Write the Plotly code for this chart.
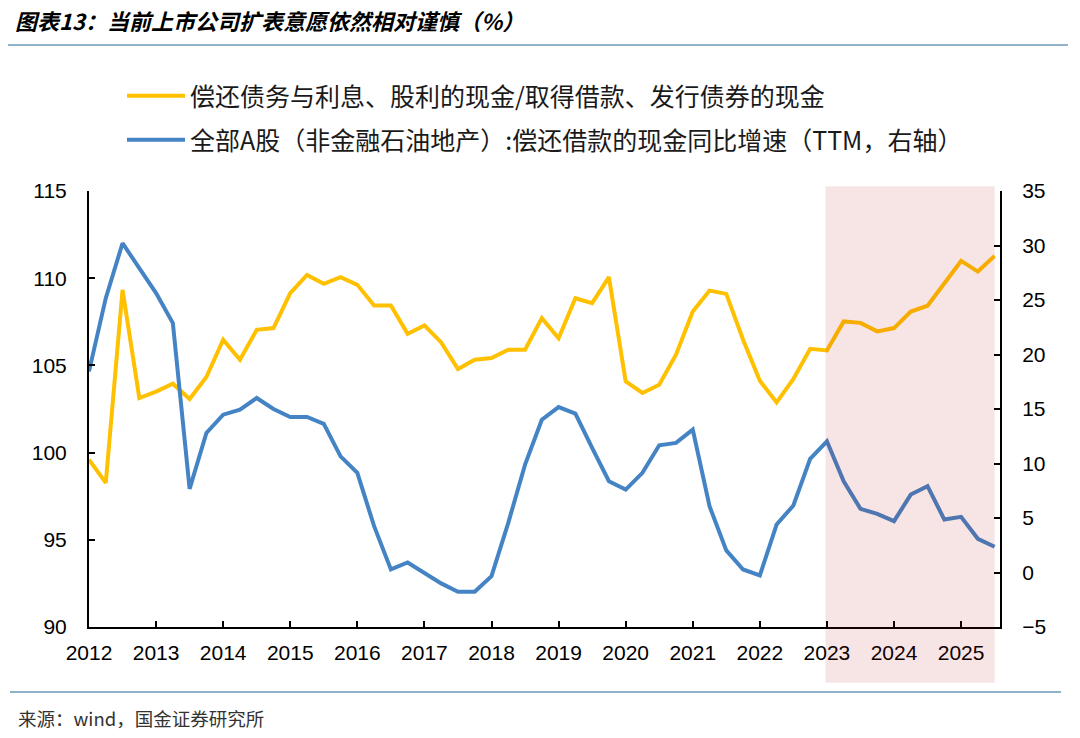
import plotly.graph_objects as go

# ---------------- data ----------------
years = list(range(2012, 2026))
periods = [f"{y}Q{q}" for y in years for q in range(1, 5)][:55]   # 2012Q1 .. 2025Q3

repay_ratio = [99.6, 98.26, 109.33, 103.13, 103.5, 103.95, 103.07, 104.33, 106.47, 105.32,
               107.04, 107.14, 109.14, 110.19, 109.68, 110.06, 109.62, 108.44, 108.44, 106.81,
               107.29, 106.32, 104.79, 105.32, 105.42, 105.9, 105.9, 107.71, 106.56, 108.85,
               108.57, 110.06, 104.08, 103.42, 103.89, 105.61, 108.09, 109.29, 109.1, 106.47,
               104.12, 102.88, 104.22, 105.95, 105.86, 107.52, 107.44, 106.95, 107.14, 108.09,
               108.42, 109.71, 110.99, 110.38, 111.28]

repay_growth = [18.45, 25.17, 30.21, 27.92, 25.63, 22.88, 7.67, 12.8, 14.48, 14.94,
                16.01, 15.0, 14.27, 14.27, 13.63, 10.66, 9.14, 4.25, 0.28, 0.92,
                -0.02, -1.0, -1.76, -1.76, -0.33, 4.56, 9.9, 14.02, 15.18, 14.57,
                11.43, 8.37, 7.61, 9.14, 11.67, 11.89, 13.11, 6.08, 2.03, 0.28,
                -0.27, 4.4, 6.15, 10.42, 12.04, 8.37, 5.84, 5.38, 4.71, 7.15,
                7.92, 4.86, 5.11, 3.09, 2.36]

tick_years = years
left_ticks = [90, 95, 100, 105, 110, 115]
right_ticks = [-5, 0, 5, 10, 15, 20, 25, 30, 35]

name_yellow = "偿还债务与利息、股利的现金/取得借款、发行债券的现金"
name_blue = "全部A股（非金融石油地产）:偿还借款的现金同比增速（TTM，右轴）"
title_text = "图表13：当前上市公司扩表意愿依然相对谨慎（%）"
source_text = "来源：wind，国金证券研究所"

shade_start = 2022.98
shade_end = 2025.5

# x position of each quarter
xq = [int(p[:4]) + (int(p[-1]) - 1) / 4 for p in periods]

YELLOW = "#FFC000"
BLUE = "#4584C4"
CJK = "Noto Sans CJK SC"
LAT = "Liberation Sans, Arial"

fig = go.Figure()
fig.add_trace(go.Scatter(x=xq, y=repay_ratio, mode="lines", name=name_yellow,
                         line=dict(color=YELLOW, width=4), yaxis="y", legend="legend",
                         showlegend=True))
fig.add_trace(go.Scatter(x=xq, y=repay_growth, mode="lines", name=name_blue,
                         line=dict(color=BLUE, width=4), yaxis="y2", legend="legend2",
                         showlegend=True))

axis_common = dict(showline=True, linecolor="black", linewidth=2, ticks="inside",
                   ticklen=6, tickwidth=2, tickcolor="black", showgrid=False, zeroline=False,
                   tickfont=dict(family=LAT, size=21, color="black"))

legend_common = dict(xref="container", yref="container", x=122 / 1080,
                     xanchor="left", yanchor="middle", itemwidth=58, bgcolor="rgba(0,0,0,0)",
                     font=dict(family=CJK, size=25, color="#1a1a1a"))

fig.update_layout(
    width=1080, height=738,
    showlegend=True,
    margin=dict(l=89, r=80, t=191, b=111, autoexpand=False),
    paper_bgcolor="white", plot_bgcolor="white",
    xaxis=dict(range=[2012, 2025.58], tickvals=tick_years, ticklabelstandoff=6,
               automargin=False, **axis_common),
    yaxis=dict(range=[90, 115], tickvals=left_ticks, ticklabelstandoff=16,
               automargin=False, **axis_common),
    yaxis2=dict(range=[-5, 35], tickvals=right_ticks, overlaying="y", side="right",
                ticklabelstandoff=16, automargin=False, **axis_common),
    title=dict(text=title_text, x=15 / 1080, xanchor="left", xref="container",
               y=1 - 22 / 738, yanchor="middle", yref="container",
               font=dict(family=CJK, size=22, weight="bold", style="italic", color="black")),
    legend=dict(y=1 - 96 / 738, **legend_common),
    legend2=dict(y=1 - 140 / 738, **legend_common),
    shapes=[
        dict(type="rect", xref="x", yref="paper", x0=shade_start, x1=shade_end,
             y0=-0.128, y1=1.011, fillcolor="rgba(175,0,0,0.1)", line=dict(width=0),
             layer="above"),
        dict(type="line", xref="paper", yref="paper", x0=-81 / 911, x1=979 / 911,
             y0=(627 - 45) / 436, y1=(627 - 45) / 436, line=dict(color="#8FB3C9", width=2)),
        dict(type="line", xref="paper", yref="paper", x0=-79 / 911, x1=972 / 911,
             y0=(627 - 692) / 436, y1=(627 - 692) / 436, line=dict(color="#8FB3C9", width=2)),
    ],
    annotations=[
        dict(text=source_text, xref="paper", yref="paper", x=-73 / 911, y=(627 - 718) / 436,
             xanchor="left", yanchor="middle", showarrow=False,
             font=dict(family=CJK, size=18.5, color="#333333")),
    ],
)

fig.write_html("out.html", config={"displayModeBar": False},
               post_script="document.body.style.margin='0';")
